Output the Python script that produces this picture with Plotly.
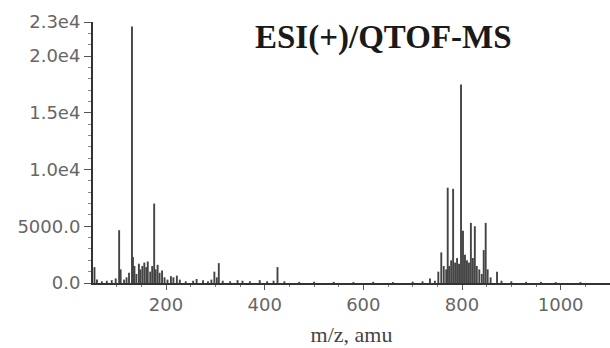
import plotly.graph_objects as go

# Peak list (m/z, intensity)
mz = [55, 60, 70, 80, 90, 98, 105, 108, 115, 120, 125, 131, 133, 136, 140, 145, 148, 152, 156, 160,
      163, 168, 172, 176, 179, 183, 187, 192, 197, 203, 210, 215, 222, 228, 240, 255, 262, 275, 285,
      292, 298, 303, 307, 315, 330, 345, 355, 370, 390, 405, 418, 426, 440, 470, 500, 540, 580, 620,
      660, 700, 720, 735, 745, 752, 758, 763, 768, 771, 774, 778, 782, 786, 790, 794, 798, 802, 806,
      810, 814, 818, 822, 826, 830, 835, 840, 844, 848, 852, 858, 871, 880, 900, 930, 960, 990, 1040]
intensity = [1400, 300, 150, 200, 250, 400, 4650, 1200, 300, 500, 900, 22600, 2300, 1500, 800, 1700,
             1200, 1500, 1800, 1400, 1900, 1000, 1500, 7000, 1200, 1600, 900, 1100, 500, 300, 600, 500,
             650, 300, 150, 200, 350, 250, 150, 300, 1000, 500, 1750, 200, 150, 250, 200, 150, 250, 150,
             200, 1400, 150, 100, 120, 100, 80, 100, 80, 120, 150, 400, 200, 1000, 2700, 1500, 1200, 8400,
             1500, 2000, 8300, 1800, 2200, 1700, 17500, 4600, 2500, 2000, 1800, 5300, 2200, 5000, 1500,
             1200, 800, 2900, 5300, 1200, 500, 1000, 200, 150, 100, 100, 80, 80]

y_tickvals = [0, 5000, 10000, 15000, 20000, 23000]
y_ticktext = ["0.0", "5000.0", "1.0e4", "1.5e4", "2.0e4", "2.3e4"]
x_tickvals = [200, 400, 600, 800, 1000]

xs, ys = [], []
for m, h in zip(mz, intensity):
    xs += [m, m, None]
    ys += [0, h, None]

fig = go.Figure()
fig.add_trace(go.Scatter(x=xs, y=ys, mode="lines",
                         line=dict(color="#444444", width=1.9),
                         hoverinfo="skip", showlegend=False))

fig.add_annotation(text="<b>ESI(+)/QTOF-MS</b>", xref="paper", yref="paper",
                   x=(383 - 93) / 517, y=(283 - 37) / 261, xanchor="center", yanchor="middle",
                   showarrow=False,
                   font=dict(family="Liberation Serif", size=33, color="#1a1a1a"))

fig.update_layout(
    width=610, height=348,
    margin=dict(l=93, r=0, t=22, b=65),
    paper_bgcolor="white", plot_bgcolor="white",
    xaxis=dict(range=[52, 1100], tickvals=x_tickvals, ticks="outside", ticklen=5,
               tickcolor="#555", showgrid=False, zeroline=False, showline=True,
               linecolor="#333", linewidth=1.5, automargin=False,
               tickfont=dict(family="DejaVu Sans", size=18, color="#666"),
               minor=dict(dtick=50, ticks="outside", ticklen=2, tickcolor="#777"),
               title=dict(text="m/z, amu", standoff=12,
                          font=dict(family="Liberation Serif", size=22, color="#444"))),
    yaxis=dict(range=[0, 23000], tickvals=y_tickvals, ticktext=y_ticktext, ticks="outside",
               ticklen=7, tickcolor="#555", showgrid=False, zeroline=False, showline=True,
               linecolor="#333", linewidth=2, automargin=False,
               tickfont=dict(family="DejaVu Sans", size=18, color="#666"),
               minor=dict(dtick=1000, ticks="outside", ticklen=3, tickcolor="#888")),
)

fig.write_html("out.html", config={"displayModeBar": False},
               post_script="document.body.style.margin='0';")
